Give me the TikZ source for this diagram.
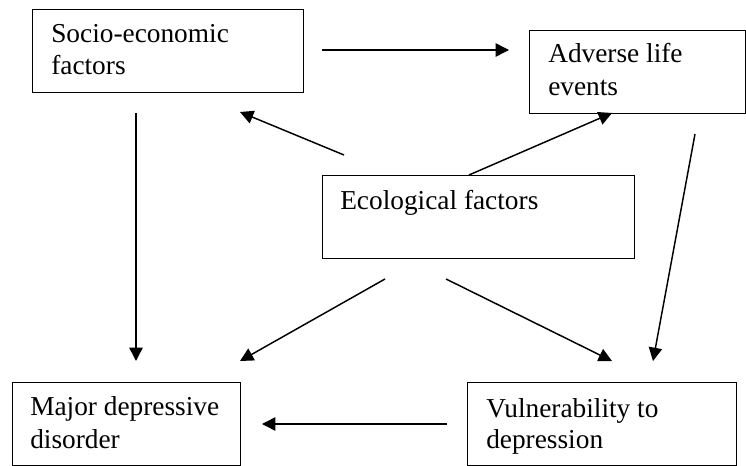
\documentclass[tikz,border=0pt]{standalone}
\usepackage{fontspec}
\setmainfont{Liberation Serif}
\usetikzlibrary{arrows.meta}
\begin{document}
\begin{tikzpicture}[x=0.75pt,y=-0.75pt,
  box/.style={draw, line width=1.1pt, rectangle, anchor=north west, inner sep=0pt,
    minimum height=62.25pt},
  txt/.style={anchor=base west, inner sep=0pt, font=\fontsize{20.5}{24.75}\selectfont},
  conn/.style={line width=1.1pt, -{Triangle[length=10pt,width=10pt]}}]
\useasboundingbox (0,0) rectangle (746,466);
% boxes
\node[box, minimum width=203.25pt] (soc) at (32,9) {};
\node[box, minimum width=162pt] (adv) at (529,30) {};
\node[box, minimum width=234pt] (eco) at (322,175) {};
\node[box, minimum width=171pt] (maj) at (12,382) {};
\node[box, minimum width=201.75pt] (vul) at (467,382) {};
% texts
\node[txt] (soc1) at (51,43) {Socio-economic};
\node[txt] (soc2) at (51,75) {factors};
\node[txt] (adv1) at (548,63) {Adverse life};
\node[txt] (adv2) at (548,96) {events};
\node[txt] (eco1) at (340,210) {Ecological factors};
\node[txt] (maj1) at (30,416) {Major depressive};
\node[txt] (maj2) at (30,448) {disorder};
\node[txt] (vul1) at (486,417) {Vulnerability to};
\node[txt] (vul2) at (486,448) {depression};
% connector endpoints
\coordinate (a1s) at (322,50);  \coordinate (a1e) at (509,50);
\coordinate (a2s) at (344,155); \coordinate (a2e) at (240,112);
\coordinate (a3s) at (469,175); \coordinate (a3e) at (612,113);
\coordinate (a4s) at (136,113); \coordinate (a4e) at (136,361);
\coordinate (a5s) at (385,279); \coordinate (a5e) at (240,361);
\coordinate (a6s) at (446,279); \coordinate (a6e) at (612,361);
\coordinate (a7s) at (695,134); \coordinate (a7e) at (653,361);
\coordinate (a8s) at (447,424); \coordinate (a8e) at (262,424);
\draw[conn] (a1s) -- (a1e);
\draw[conn] (a2s) -- (a2e);
\draw[conn] (a3s) -- (a3e);
\draw[conn] (a4s) -- (a4e);
\draw[conn] (a5s) -- (a5e);
\draw[conn] (a6s) -- (a6e);
\draw[conn] (a7s) -- (a7e);
\draw[conn] (a8s) -- (a8e);
\end{tikzpicture}
\end{document}
